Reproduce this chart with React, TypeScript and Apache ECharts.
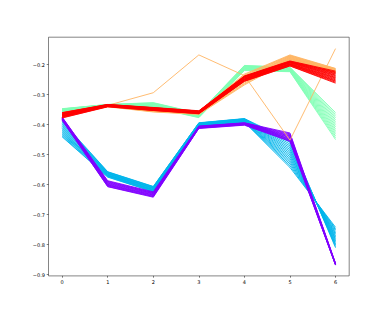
import React, { useEffect, useRef } from "react";
import * as echarts from "echarts";

const xCategories = [0, 1, 2, 3, 4, 5, 6];
const xTicks = [0, 1, 2, 3, 4, 5, 6];
const yTicks = [-0.9, -0.8, -0.7, -0.6, -0.5, -0.4, -0.3, -0.2];

const cyanLines = [
  [-0.389, -0.557, -0.606, -0.394, -0.380, -0.453, -0.810],
  [-0.392, -0.558, -0.607, -0.395, -0.381, -0.459, -0.806],
  [-0.396, -0.559, -0.608, -0.395, -0.381, -0.465, -0.801],
  [-0.399, -0.561, -0.610, -0.396, -0.382, -0.471, -0.797],
  [-0.403, -0.562, -0.611, -0.397, -0.383, -0.477, -0.792],
  [-0.406, -0.563, -0.612, -0.397, -0.384, -0.483, -0.788],
  [-0.410, -0.564, -0.613, -0.398, -0.384, -0.489, -0.783],
  [-0.413, -0.565, -0.614, -0.399, -0.385, -0.495, -0.779],
  [-0.417, -0.567, -0.616, -0.399, -0.386, -0.501, -0.774],
  [-0.420, -0.568, -0.617, -0.400, -0.387, -0.507, -0.770],
  [-0.424, -0.569, -0.618, -0.401, -0.388, -0.513, -0.765],
  [-0.427, -0.570, -0.619, -0.401, -0.388, -0.519, -0.761],
  [-0.431, -0.571, -0.620, -0.402, -0.389, -0.525, -0.756],
  [-0.434, -0.572, -0.622, -0.403, -0.390, -0.531, -0.751],
  [-0.438, -0.574, -0.623, -0.403, -0.391, -0.537, -0.747],
  [-0.441, -0.575, -0.624, -0.404, -0.392, -0.543, -0.742],
];

const purpleLines = [
  [-0.375, -0.587, -0.624, -0.405, -0.394, -0.428, -0.862],
  [-0.376, -0.589, -0.626, -0.406, -0.395, -0.431, -0.863],
  [-0.377, -0.591, -0.627, -0.406, -0.395, -0.434, -0.864],
  [-0.378, -0.593, -0.629, -0.407, -0.396, -0.437, -0.864],
  [-0.379, -0.595, -0.630, -0.408, -0.397, -0.439, -0.865],
  [-0.380, -0.597, -0.632, -0.408, -0.397, -0.442, -0.865],
  [-0.381, -0.599, -0.634, -0.409, -0.398, -0.444, -0.866],
  [-0.382, -0.601, -0.635, -0.410, -0.399, -0.447, -0.866],
  [-0.383, -0.602, -0.637, -0.411, -0.399, -0.449, -0.867],
  [-0.384, -0.604, -0.639, -0.411, -0.400, -0.452, -0.867],
  [-0.385, -0.606, -0.640, -0.412, -0.401, -0.454, -0.868],
  [-0.386, -0.607, -0.642, -0.413, -0.402, -0.456, -0.868],
];

const greenLines = [
  [-0.347, -0.333, -0.327, -0.362, -0.203, -0.209, -0.360],
  [-0.348, -0.333, -0.328, -0.363, -0.204, -0.210, -0.366],
  [-0.348, -0.334, -0.329, -0.364, -0.205, -0.211, -0.372],
  [-0.349, -0.334, -0.330, -0.365, -0.206, -0.212, -0.378],
  [-0.350, -0.334, -0.331, -0.366, -0.207, -0.213, -0.384],
  [-0.350, -0.335, -0.332, -0.367, -0.208, -0.214, -0.390],
  [-0.351, -0.335, -0.333, -0.368, -0.209, -0.215, -0.396],
  [-0.352, -0.335, -0.334, -0.369, -0.210, -0.216, -0.402],
  [-0.352, -0.336, -0.336, -0.370, -0.212, -0.217, -0.408],
  [-0.353, -0.336, -0.337, -0.371, -0.213, -0.218, -0.414],
  [-0.354, -0.336, -0.338, -0.372, -0.214, -0.219, -0.420],
  [-0.354, -0.337, -0.339, -0.373, -0.215, -0.220, -0.426],
  [-0.355, -0.337, -0.340, -0.374, -0.216, -0.221, -0.432],
  [-0.356, -0.337, -0.341, -0.375, -0.217, -0.222, -0.438],
  [-0.356, -0.338, -0.342, -0.376, -0.219, -0.223, -0.444],
  [-0.357, -0.338, -0.343, -0.377, -0.220, -0.224, -0.450],
];

const orangeLines = [
  [-0.360, -0.335, -0.349, -0.357, -0.232, -0.168, -0.213],
  [-0.361, -0.335, -0.350, -0.358, -0.235, -0.170, -0.214],
  [-0.362, -0.336, -0.351, -0.358, -0.238, -0.171, -0.216],
  [-0.363, -0.336, -0.352, -0.359, -0.242, -0.173, -0.217],
  [-0.364, -0.337, -0.352, -0.360, -0.245, -0.174, -0.218],
  [-0.364, -0.337, -0.353, -0.361, -0.248, -0.176, -0.220],
  [-0.365, -0.338, -0.354, -0.362, -0.252, -0.177, -0.221],
  [-0.366, -0.338, -0.355, -0.362, -0.255, -0.179, -0.222],
  [-0.367, -0.339, -0.356, -0.363, -0.258, -0.180, -0.224],
  [-0.368, -0.339, -0.356, -0.364, -0.262, -0.182, -0.225],
  [-0.369, -0.340, -0.357, -0.365, -0.265, -0.183, -0.226],
  [-0.370, -0.341, -0.358, -0.366, -0.268, -0.185, -0.228],
  [-0.362, -0.336, -0.294, -0.168, -0.237, -0.452, -0.147],
];

const redLines = [
  [-0.360, -0.333, -0.343, -0.354, -0.238, -0.188, -0.222],
  [-0.361, -0.333, -0.344, -0.355, -0.239, -0.189, -0.225],
  [-0.362, -0.334, -0.344, -0.355, -0.240, -0.190, -0.227],
  [-0.364, -0.334, -0.345, -0.356, -0.241, -0.191, -0.230],
  [-0.365, -0.335, -0.346, -0.357, -0.243, -0.192, -0.232],
  [-0.366, -0.335, -0.346, -0.357, -0.244, -0.193, -0.235],
  [-0.367, -0.336, -0.347, -0.358, -0.245, -0.194, -0.237],
  [-0.368, -0.336, -0.348, -0.359, -0.246, -0.195, -0.240],
  [-0.370, -0.337, -0.349, -0.359, -0.248, -0.197, -0.243],
  [-0.371, -0.337, -0.349, -0.360, -0.249, -0.198, -0.245],
  [-0.372, -0.338, -0.350, -0.361, -0.250, -0.199, -0.248],
  [-0.373, -0.338, -0.351, -0.361, -0.251, -0.200, -0.251],
  [-0.374, -0.339, -0.351, -0.362, -0.252, -0.201, -0.254],
  [-0.375, -0.339, -0.352, -0.363, -0.254, -0.202, -0.256],
  [-0.377, -0.340, -0.353, -0.363, -0.255, -0.204, -0.259],
  [-0.378, -0.341, -0.353, -0.364, -0.256, -0.205, -0.262],
];

const clusters = [
  { lines: cyanLines, color: "#00b4eb" },
  { lines: purpleLines, color: "#8000ff" },
  { lines: greenLines, color: "#80ffb4" },
  { lines: orangeLines, color: "#ffb462" },
  { lines: redLines, color: "#ff0000" },
];

const fmt = (v: number) => {
  const s = Math.abs(v).toFixed(1);
  return v < -1e-9 ? "\u2212" + s : s;
};

export default function App() {
  const ref = useRef<HTMLDivElement>(null);
  useEffect(() => {
    if (!ref.current) return;
    const chart = echarts.init(ref.current, null, { renderer: "svg" });
    const series: any[] = [];
    clusters.forEach((c) => {
      c.lines.forEach((line) => {
        series.push({
          type: "line",
          data: line.map((v, i) => [xCategories[i], v]),
          symbol: "none",
          silent: true,
          lineStyle: { color: c.color, width: 0.9 },
        });
      });
    });
    const labelStyle = {
      fontFamily: "DejaVu Sans",
      fontSize: 5,
      color: "#000",
    };
    chart.setOption({
      animation: false,
      backgroundColor: "#fff",
      grid: {
        left: 48.5,
        top: 37.2,
        width: 300.7,
        height: 238.7,
        show: true,
        borderColor: "#333",
        borderWidth: 0.6,
        backgroundColor: "transparent",
      },
      xAxis: {
        type: "value",
        min: -0.3,
        max: 6.3,
        splitLine: { show: false },
        axisLine: { show: false, onZero: false },
        axisTick: {
          show: true,
          length: 1.8,
          customValues: xTicks,
          lineStyle: { color: "#000", width: 0.5 },
        },
        axisLabel: {
          ...labelStyle,
          margin: 3.5,
          customValues: xTicks,
          formatter: (v: number) => String(Math.round(v)),
        },
      },
      yAxis: {
        type: "value",
        min: -0.904,
        max: -0.109,
        splitLine: { show: false },
        axisLine: { show: false, onZero: false },
        axisTick: {
          show: true,
          length: 1.8,
          customValues: yTicks,
          lineStyle: { color: "#000", width: 0.5 },
        },
        axisLabel: {
          ...labelStyle,
          margin: 3.5,
          customValues: yTicks,
          formatter: (v: number) => fmt(v),
        },
      },
      series,
    });
    return () => chart.dispose();
  }, []);
  return (
    <div
      ref={ref}
      style={{ position: "fixed", left: 0, top: 0, width: 388, height: 310, background: "#fff" }}
    />
  );
}
